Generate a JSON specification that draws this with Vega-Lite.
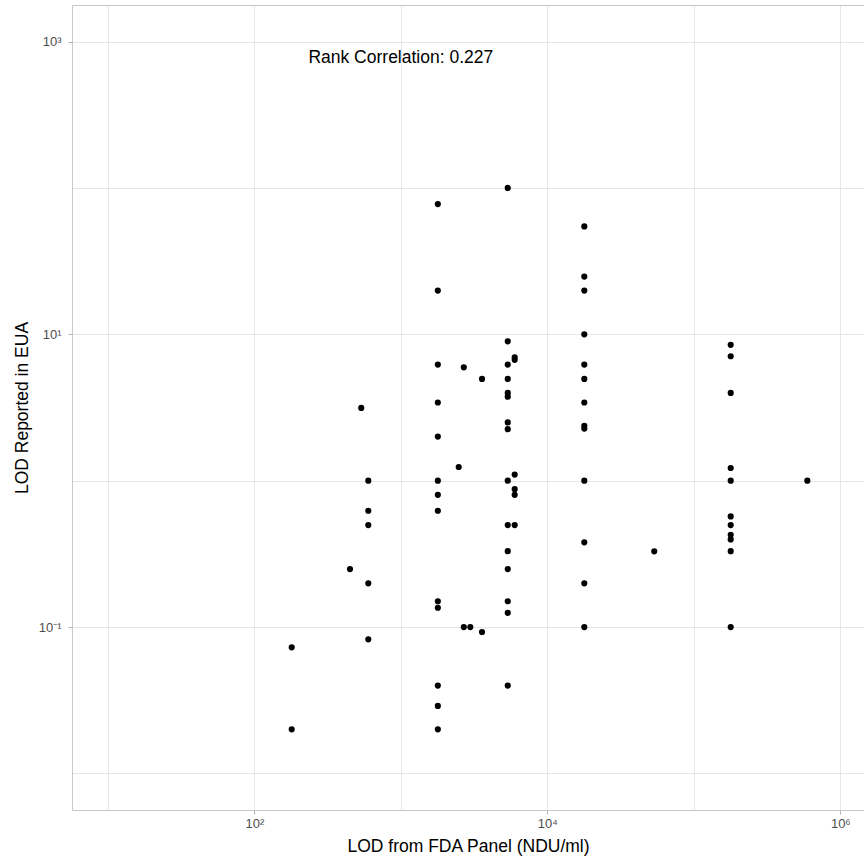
{
  "$schema": "https://vega.github.io/schema/vega-lite/v6.json",
  "width": 792,
  "height": 805,
  "autosize": "none",
  "padding": {"left": 72, "top": 5, "right": 0, "bottom": 52},
  "background": "white",
  "config": {"font": "Liberation Sans", "view": {"stroke": null}},
  "data": {"values": [
    {"x": 180, "y": 0.0727}, {"x": 180, "y": 0.02},
    {"x": 450, "y": 0.249},
    {"x": 537, "y": 3.14},
    {"x": 600, "y": 1.0}, {"x": 600, "y": 0.623}, {"x": 600, "y": 0.497}, {"x": 600, "y": 0.199}, {"x": 600, "y": 0.0824},
    {"x": 1790, "y": 77.6}, {"x": 1790, "y": 19.9}, {"x": 1790, "y": 6.21}, {"x": 1790, "y": 3.42}, {"x": 1790, "y": 2.0}, {"x": 1790, "y": 1.0}, {"x": 1790, "y": 0.8}, {"x": 1790, "y": 0.623}, {"x": 1790, "y": 0.15}, {"x": 1790, "y": 0.1355}, {"x": 1790, "y": 0.0398}, {"x": 1790, "y": 0.0289}, {"x": 1790, "y": 0.02},
    {"x": 2485, "y": 1.24},
    {"x": 2692, "y": 5.95}, {"x": 2692, "y": 0.1},
    {"x": 2981, "y": 0.1},
    {"x": 3584, "y": 4.96}, {"x": 3584, "y": 0.0925},
    {"x": 5370, "y": 100}, {"x": 5370, "y": 8.96}, {"x": 5370, "y": 6.21}, {"x": 5370, "y": 4.96}, {"x": 5370, "y": 3.98}, {"x": 5370, "y": 3.75}, {"x": 5370, "y": 2.5}, {"x": 5370, "y": 2.25}, {"x": 5370, "y": 1.0}, {"x": 5370, "y": 0.497}, {"x": 5370, "y": 0.33}, {"x": 5370, "y": 0.249}, {"x": 5370, "y": 0.15}, {"x": 5370, "y": 0.125}, {"x": 5370, "y": 0.0398},
    {"x": 5989, "y": 6.97}, {"x": 5989, "y": 6.69}, {"x": 5989, "y": 1.1}, {"x": 5989, "y": 0.875}, {"x": 5989, "y": 0.8}, {"x": 5989, "y": 0.497},
    {"x": 17890, "y": 54.6}, {"x": 17890, "y": 24.8}, {"x": 17890, "y": 19.9}, {"x": 17890, "y": 10}, {"x": 17890, "y": 6.21}, {"x": 17890, "y": 4.96}, {"x": 17890, "y": 3.42}, {"x": 17890, "y": 2.37}, {"x": 17890, "y": 2.27}, {"x": 17890, "y": 1.0}, {"x": 17890, "y": 0.379}, {"x": 17890, "y": 0.199}, {"x": 17890, "y": 0.1},
    {"x": 53700, "y": 0.329},
    {"x": 178600, "y": 8.47}, {"x": 178600, "y": 7.08}, {"x": 178600, "y": 3.98}, {"x": 178600, "y": 1.22}, {"x": 178600, "y": 1.0}, {"x": 178600, "y": 0.57}, {"x": 178600, "y": 0.497}, {"x": 178600, "y": 0.427}, {"x": 178600, "y": 0.397}, {"x": 178600, "y": 0.33}, {"x": 178600, "y": 0.1},
    {"x": 595600, "y": 1.0}
  ]},
  "layer": [
    {
      "mark": {"type": "point", "filled": true, "color": "black", "size": 38, "opacity": 1},
      "encoding": {
        "x": {
          "field": "x", "type": "quantitative",
          "scale": {"type": "log", "domain": [5.696, 1451300], "nice": false},
          "axis": {
            "orient": "bottom",
            "values": [10, 100, 1000, 10000, 100000, 1000000],
            "labelExpr": "datum.value == 100 ? '10²' : datum.value == 10000 ? '10⁴' : datum.value == 1000000 ? '10⁶' : ''",
            "title": "LOD from FDA Panel (NDU/ml)",
            "grid": true, "gridColor": "#E6E6E6", "gridWidth": 1,
            "domain": true, "domainColor": "#C8C8C8", "domainWidth": 1,
            "tickColor": {"condition": {"test": "datum.value == 100 || datum.value == 10000 || datum.value == 1000000", "value": "#B3B3B3"}, "value": "transparent"},
            "tickSize": 4,
            "labelFontSize": 13, "labelColor": "#4D4D4D", "labelPadding": 3,
            "labelFlush": false, "labelOverlap": false,
            "titleFontSize": 17.5, "titleFontWeight": "normal", "titleColor": "black", "titlePadding": 7
          }
        },
        "y": {
          "field": "y", "type": "quantitative",
          "scale": {"type": "log", "domain": [0.005623, 1778.3], "nice": false},
          "axis": {
            "orient": "left",
            "values": [0.01, 0.1, 1, 10, 100, 1000],
            "labelExpr": "datum.value == 1000 ? '10³' : datum.value == 10 ? '10¹' : datum.value == 0.1 ? '10⁻¹' : ''",
            "title": "LOD Reported in EUA",
            "grid": true, "gridColor": "#E6E6E6", "gridWidth": 1,
            "domain": true, "domainColor": "#C8C8C8", "domainWidth": 1,
            "tickColor": {"condition": {"test": "datum.value == 1000 || datum.value == 10 || datum.value == 0.1", "value": "#B3B3B3"}, "value": "transparent"},
            "tickSize": 4,
            "labelFontSize": 13, "labelColor": "#4D4D4D", "labelPadding": 7,
            "labelFlush": false, "labelOverlap": false,
            "titleFontSize": 17.5, "titleFontWeight": "normal", "titleColor": "black", "titlePadding": 7
          }
        }
      }
    },
    {
      "data": {"values": [{"x": 1000, "y": 712, "label": "Rank Correlation: 0.227"}]},
      "mark": {"type": "text", "fontSize": 17.5, "color": "black", "baseline": "alphabetic", "align": "center"},
      "encoding": {
        "x": {"field": "x", "type": "quantitative", "axis": {"orient": "top", "domain": true, "domainColor": "#C8C8C8", "labels": false, "ticks": false, "grid": false, "title": null}},
        "y": {"field": "y", "type": "quantitative", "axis": null},
        "text": {"field": "label"}
      }
    }
  ],
  "resolve": {"axis": {"x": "independent", "y": "independent"}}
}
